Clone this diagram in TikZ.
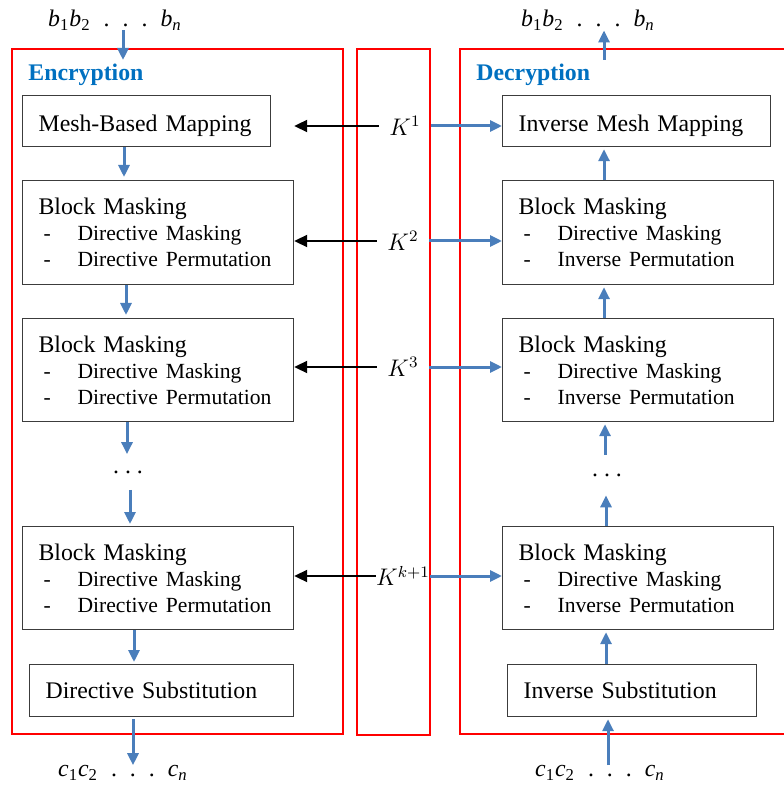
\documentclass[tikz,border=0pt]{standalone}
\usepackage{fontspec}
\setmainfont{Liberation Serif}
\usetikzlibrary{arrows.meta}

\definecolor{flowblue}{RGB}{74,126,187}
\definecolor{headblue}{RGB}{0,112,192}
\definecolor{boxgray}{RGB}{60,60,60}

\newcommand{\mainsz}{\fontsize{11.9}{13}\selectfont}
\newcommand{\blkitem}[1]{{\fontsize{10.8}{13}\selectfont\makebox[19.5pt][l]{\hspace{2.5pt}-}#1}}
\newcommand{\seq}[1]{\textit{#1}\textsubscript{1}\textit{#1}\textsubscript{2}\hspace{6.5pt}.\hspace{6.5pt}.\hspace{6.5pt}.\hspace{6.5pt}\textit{#1}\textsubscript{\textit{n}}}

\begin{document}
\begin{tikzpicture}[x=0.5pt,y=-0.5pt,
  frame/.style={draw=red, line width=1pt},
  stage/.style={draw=boxgray, line width=0.6pt, anchor=north west, inner xsep=8pt,
    inner ysep=0pt, align=left, font=\mainsz},
  lowtext/.style={text height=10pt, text depth=0pt},
  heading/.style={anchor=west, inner sep=0pt, text=headblue, font=\mainsz\bfseries},
  flow/.style={draw=flowblue, line width=1.5pt, -{Triangle[length=6pt,width=5.5pt]}},
  keyin/.style={draw=black, line width=1pt, -{Triangle[length=6.5pt,width=6pt]}},
  keylab/.style={inner sep=0pt, minimum width=26pt, font=\fontsize{12}{14}\selectfont},
  bits/.style={inner sep=0pt, font=\mainsz},
  gapdots/.style={inner sep=0pt, font=\mainsz}]

\useasboundingbox (0,0) rectangle (783,785);

% containers
\draw[frame] (12,49) rectangle (343,734);
\draw[frame] (357,49) rectangle (430,735);
\draw[frame] (460,49) rectangle (800,734);

\node[heading] (enc) at (28,75) {Encryption};
\node[heading] (dec) at (476,75) {Decryption};

% encryption stages
\node[stage, lowtext, text width=108pt, minimum height=25.5pt] (mbm) at (22,95) {Mesh-Based Mapping};
\node[stage, text width=119.5pt, minimum height=52pt] (bm1) at (22,180)
  {Block Masking\\\blkitem{Directive Masking}\\\blkitem{Directive Permutation}};
\node[stage, text width=119.5pt, minimum height=51.5pt] (bm2) at (22,318)
  {Block Masking\\\blkitem{Directive Masking}\\\blkitem{Directive Permutation}};
\node[gapdots, minimum height=17.5pt] (ldots) at (128,472) {.\hspace{3pt}.\hspace{3pt}.};
\node[stage, text width=119.5pt, minimum height=51.5pt] (bm3) at (22,526)
  {Block Masking\\\blkitem{Directive Masking}\\\blkitem{Directive Permutation}};
\node[stage, text width=116pt, minimum height=26pt] (dsub) at (29,664) {Directive Substitution};

% decryption stages
\node[stage, lowtext, text width=118pt, minimum height=25.5pt] (imm) at (502,95) {Inverse Mesh Mapping};
\node[stage, text width=119.5pt, minimum height=52pt] (rbm1) at (502,180)
  {Block Masking\\\blkitem{Directive Masking}\\\blkitem{Inverse Permutation}};
\node[stage, text width=119.5pt, minimum height=51.5pt] (rbm2) at (502,318)
  {Block Masking\\\blkitem{Directive Masking}\\\blkitem{Inverse Permutation}};
\node[gapdots, minimum height=20pt] (rdots) at (607,475) {.\hspace{3pt}.\hspace{3pt}.};
\node[stage, text width=119.5pt, minimum height=51.5pt] (rbm3) at (502,526)
  {Block Masking\\\blkitem{Directive Masking}\\\blkitem{Inverse Permutation}};
\node[stage, text width=108.5pt, minimum height=26pt] (isub) at (507,664) {Inverse Substitution};

% plaintext / ciphertext
\node[bits] (pin) at (115,20) {\seq{b}};
\node[bits] (pout) at (588,20) {\seq{b}};
\node[bits] (cout) at (123,773) {\seq{c}};
\node[bits] (cin) at (600,773) {\seq{c}};

% round keys
\node[keylab] (k1) at (405,126) {$K^{1}$};
\node[keylab] (k2) at (403,241) {$K^{2}$};
\node[keylab] (k3) at (403,367) {$K^{3}$};
\node[keylab] (k4) at (403,576) {$K^{k+1}$};

% encryption flow
\coordinate (encin) at (123,60);
\draw[flow] (encin |- pin.south) -- (encin);
\draw[flow, shorten >=1.5pt] ([xshift=51pt]mbm.south west) -- ([xshift=51pt]mbm.south west |- bm1.north);
\draw[flow, shorten >=1.5pt] ([xshift=52pt]bm1.south west) -- ([xshift=52pt]bm1.south west |- bm2.north);
\draw[flow] ([xshift=52.5pt]bm2.south west) -- ([xshift=-0.5pt]ldots.north);
\draw[flow, shorten >=1pt] ([xshift=1pt]ldots.south) -- ([xshift=1pt]ldots.south |- bm3.north);
\draw[flow, shorten >=1pt] ([xshift=56pt]bm3.south west) -- ([xshift=56pt]bm3.south west |- dsub.north);
\draw[flow, shorten <=1pt] ([xshift=52pt]dsub.south west) -- ([xshift=5pt]cout.north);

% decryption flow
\coordinate (decout) at (604,60);
\draw[flow] (decout) -- (decout |- pout.south);
\draw[flow, shorten >=1pt] ([xshift=51pt]rbm1.north west) -- ([xshift=51pt]rbm1.north west |- imm.south);
\draw[flow, shorten >=1pt] ([xshift=51pt]rbm2.north west) -- ([xshift=51pt]rbm2.north west |- rbm1.south);
\draw[flow, shorten >=1pt] ([xshift=-1pt]rdots.north) -- ([xshift=-1pt]rdots.north |- rbm2.south);
\draw[flow] ([xshift=52pt]rbm3.north west) -- ([xshift=-0.5pt]rdots.south);
\draw[flow, shorten >=1pt] ([xshift=49.5pt]isub.north west) -- ([xshift=49.5pt]isub.north west |- rbm3.south);
\draw[flow, shorten >=1pt] ([xshift=4pt]cin.north) -- ([xshift=4pt]cin.north |- isub.south);

% key distribution
\draw[keyin] (k1.west) -- (k1.west -| bm1.east);
\draw[keyin] (k2.west) -- (k2.west -| bm1.east);
\draw[keyin] (k3.west) -- (k3.west -| bm2.east);
\draw[keyin] (k4.west) -- (k4.west -| bm3.east);
\draw[flow] (k1.east) -- (k1.east -| imm.west);
\draw[flow] (k2.east) -- (k2.east -| rbm1.west);
\draw[flow] (k3.east) -- (k3.east -| rbm2.west);
\draw[flow] (k4.east) -- (k4.east -| rbm3.west);
\end{tikzpicture}
\end{document}
